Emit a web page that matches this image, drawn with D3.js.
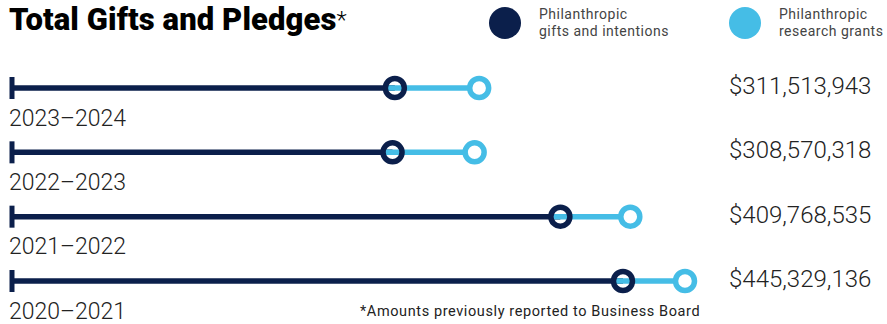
<!DOCTYPE html>
<html>
<head>
<meta charset="utf-8">
<script src="https://cdn.jsdelivr.net/npm/d3@7"></script>
<style>
  html, body { margin: 0; padding: 0; background: #fff; }
  svg { display: block; font-family: Roboto, "Open Sans", sans-serif; }
</style>
</head>
<body>
<script>

// fiscal years, top to bottom
var years = ["2023\u20132024", "2022\u20132023", "2021\u20132022", "2020\u20132021"];

// total gifts and pledges per year (dollars)
var totals = [311513943, 308570318, 409768535, 445329136];

// philanthropic gifts and intentions part
var gifts = [256700000, 255200000, 364300000, 405000000];

var legend_labels = [["Philanthropic", "gifts and intentions"], ["Philanthropic", "research grants"]];

var navy = "#0b1f4b";
var sky = "#45bde6";

var width = 887, height = 324;

var svg = d3.select("body")
            .append("svg")
            .attr("width", width)
            .attr("height", height);

// scales
var x_scale = d3.scaleLinear()
    .domain([0, d3.max(totals)])
    .range([0, 685]);

var y_scale = d3.scalePoint()
    .domain(years)
    .range([88, 281]);

var start_x = 12;
var r = 9.5;

// title
var title = svg.append("text")
    .attr("x", 9)
    .attr("y", 30)
    .attr("font-size", "31px")
    .attr("font-weight", 900)
    .attr("letter-spacing", "0.1px")
    .attr("fill", "#000")
    .text("Total Gifts and Pledges");
title.append("tspan")
    .attr("font-weight", 300)
    .attr("font-size", "24px")
    .attr("dy", -2)
    .text("*");

// legend
var legend = svg.selectAll(".legend")
    .data(legend_labels)
    .enter()
    .append("g")
    .attr("class", "legend")
    .attr("transform", function(d, i) {
      return "translate(" + (505 + i * 240) + ",23)";
    });

legend.append("circle")
    .attr("r", 16)
    .attr("fill", function(d, i) { return i == 0 ? navy : sky; });

legend.append("text")
    .attr("x", 34)
    .attr("y", -4)
    .attr("font-size", "14px")
    .attr("letter-spacing", "0.5px")
    .attr("fill", "#444")
    .text(function(d) { return d[0]; });

legend.append("text")
    .attr("x", 34)
    .attr("y", 12.5)
    .attr("font-size", "14px")
    .attr("letter-spacing", "0.5px")
    .attr("fill", "#444")
    .text(function(d) { return d[1]; });

// one group per year
var rows = svg.selectAll(".row")
    .data(years)
    .enter()
    .append("g")
    .attr("class", "row")
    .attr("transform", function(d) {
      return "translate(0," + y_scale(d) + ")";
    });

// start tick
rows.append("line")
    .attr("x1", start_x)
    .attr("x2", start_x)
    .attr("y1", -11)
    .attr("y2", 11)
    .attr("stroke", navy)
    .attr("stroke-width", 5);

// gifts line
rows.append("line")
    .attr("x1", start_x)
    .attr("x2", function(d, i) { return x_scale(gifts[i]); })
    .attr("stroke", navy)
    .attr("stroke-width", 5.5);

// research grants line
rows.append("line")
    .attr("x1", function(d, i) { return x_scale(gifts[i]) - r; })
    .attr("x2", function(d, i) { return x_scale(totals[i]); })
    .attr("stroke", sky)
    .attr("stroke-width", 5.5);

// gifts circle (open)
rows.append("circle")
    .attr("cx", function(d, i) { return x_scale(gifts[i]); })
    .attr("r", r)
    .attr("fill", "none")
    .attr("stroke", navy)
    .attr("stroke-width", 5.5);

// total circle
rows.append("circle")
    .attr("cx", function(d, i) { return x_scale(totals[i]); })
    .attr("r", r)
    .attr("fill", "#fff")
    .attr("stroke", sky)
    .attr("stroke-width", 5.5);

// year labels
rows.append("text")
    .attr("x", 9)
    .attr("y", 37.5)
    .attr("font-size", "23px")
    .attr("font-weight", 300)
    .attr("fill", "#222")
    .text(function(d) { return d; });

// totals on the right
var fmt = d3.format("$,");
rows.append("text")
    .attr("x", 729)
    .attr("y", 6)
    .attr("font-size", "24px")
    .attr("font-weight", 300)
    .attr("fill", "#222")
    .text(function(d, i) { return fmt(totals[i]); });

// footnote
svg.append("text")
    .attr("x", 360)
    .attr("y", 316)
    .attr("font-size", "14.5px")
    .attr("letter-spacing", "0.6px")
    .attr("fill", "#222")
    .text("*Amounts previously reported to Business Board");

</script>
</body>
</html>
